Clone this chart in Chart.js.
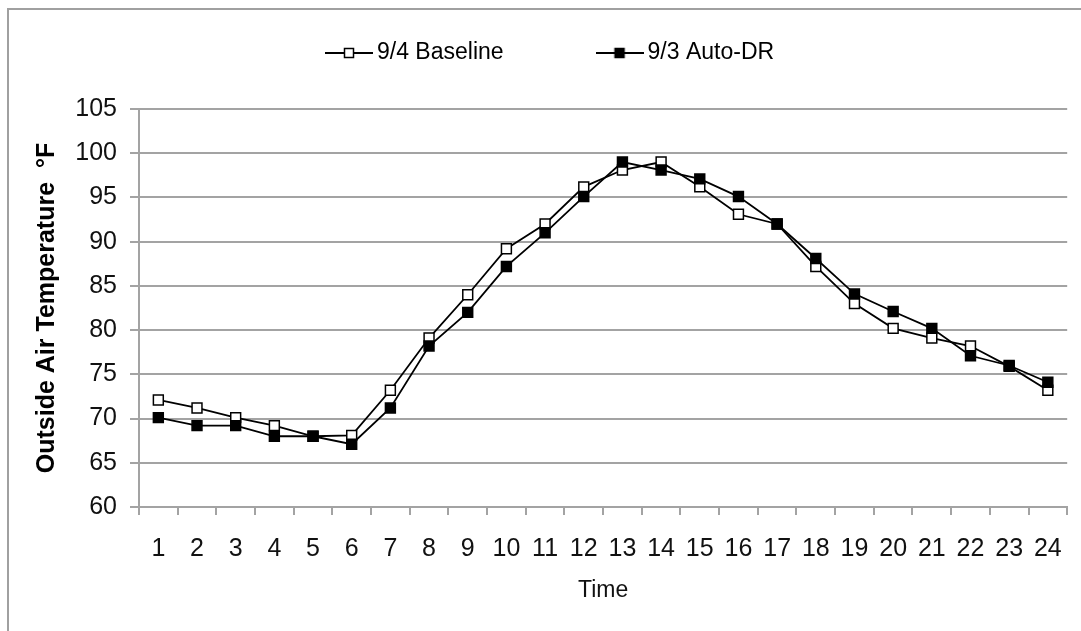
<!DOCTYPE html>
<html>
<head>
<meta charset="utf-8">
<script src="https://cdn.jsdelivr.net/npm/chart.js@4.4.1/dist/chart.umd.min.js"></script>
<style>
  html, body { margin: 0; padding: 0; background: #fff; overflow: hidden; }
  #wrap { position: relative; width: 1081px; height: 631px; }
  #frame { position: absolute; left: 7px; top: 8px; width: 2000px; height: 2000px;
           border-left: 2px solid #a0a0a0; border-top: 2px solid #a0a0a0; }
  #tempChart { position: absolute; left: 0; top: 0; }
</style>
</head>
<body>
<div id="wrap">
  <div id="frame"></div>
  <canvas id="tempChart"></canvas>
</div>
<script>
// 시간대 (1~24시)
const hours = ['1','2','3','4','5','6','7','8','9','10','11','12','13','14','15','16','17','18','19','20','21','22','23','24'];
const baselineLabel = '9/4 Baseline';
const autoDrLabel = '9/3 Auto-DR';
const baseline = [72.1, 71.2, 70.1, 69.2, 68.0, 68.1, 73.2, 79.1, 84.0, 89.2, 92.0, 96.2, 98.1, 99.0, 96.2, 93.1, 92.0, 87.2, 83.0, 80.2, 79.1, 78.2, 75.9, 73.2];
const autoDr = [70.1, 69.2, 69.2, 68.0, 68.0, 67.1, 71.2, 78.2, 82.0, 87.2, 91.0, 95.1, 99.0, 98.1, 97.1, 95.1, 92.0, 88.1, 84.1, 82.1, 80.2, 77.1, 76.0, 74.1];
const yMin = 60, yMax = 105, yStep = 5;

const FONT = "'Liberation Sans', Arial, sans-serif";
const GRID = '#a3a3a3';

// 범례용 선+마커 그림
function legendIcon(filled) {
    const c = document.createElement('canvas');
    c.width = 48; c.height = 14;
    const g = c.getContext('2d');
    g.strokeStyle = '#000';
    g.lineWidth = 1.8;
    g.beginPath(); g.moveTo(0, 7); g.lineTo(48, 7); g.stroke();
    g.fillStyle = filled ? '#000' : '#fff';
    g.fillRect(19.5, 2.5, 9, 9);
    g.lineWidth = 1.5;
    g.strokeRect(19.5, 2.5, 9, 9);
    return c;
}

// 범례와 그래프 사이 여백
const legendGap = {
    id: 'legendGap',
    beforeInit(chart) {
        const fit = chart.legend.fit;
        chart.legend.fit = function() {
            fit.call(chart.legend);
            this.height += 34.5;
        };
    }
};

const ctx = document.getElementById('tempChart').getContext('2d');
new Chart(ctx, {
    type: 'line',
    data: {
        labels: hours,
        datasets: [
            { label: baselineLabel, data: baseline, order: 2,
              borderColor: '#000', borderWidth: 1.8, pointStyle: 'rect', pointRadius: 7,
              pointBackgroundColor: '#fff', pointBorderColor: '#000', pointBorderWidth: 1.5 },
            { label: autoDrLabel, data: autoDr, order: 1,
              borderColor: '#000', borderWidth: 1.8, pointStyle: 'rect', pointRadius: 7,
              pointBackgroundColor: '#000', pointBorderColor: '#000', pointBorderWidth: 1.5 }
        ]
    },
    options: {
        responsive: true,
        maintainAspectRatio: false,
        animation: false,
        layout: { padding: { top: 31.5, left: 37.6, right: 12, bottom: 0 } },
        scales: {
            x: {
                offset: true,
                grid: { display: true, drawOnChartArea: false, offset: true, tickLength: 8, color: GRID, lineWidth: 2 },
                border: { display: true, color: GRID, width: 2 },
                ticks: { color: '#111', font: { family: FONT, size: 25 }, padding: 19, maxRotation: 0, autoSkip: false },
                title: { display: true, text: 'Time', color: '#111', font: { family: FONT, size: 23 }, padding: { top: 0, bottom: 27 } },
                afterFit(scale) { scale.height = 124; }
            },
            y: {
                min: yMin, max: yMax,
                grid: { color: GRID, lineWidth: 2, tickLength: 9 },
                border: { display: true, color: GRID, width: 2 },
                ticks: { stepSize: yStep, color: '#111', font: { family: FONT, size: 25 }, padding: 13 },
                title: { display: true, text: 'Outside Air Temperature  °F', color: '#000',
                         font: { family: FONT, size: 25, weight: 'bold' }, padding: { top: -5, bottom: 0 } },
                afterFit(scale) { scale.width = 101.4; }
            }
        },
        plugins: {
            legend: {
                position: 'top',
                labels: {
                    usePointStyle: true,
                    pointStyleWidth: 33,
                    padding: 10,
                    color: '#111',
                    font: { family: FONT, size: 23 },
                    generateLabels(chart) {
                        const icons = [legendIcon(false), legendIcon(true)];
                        return chart.data.datasets.map((ds, i) => ({
                            text: i === 0 ? ds.label + ' '.repeat(14) : ds.label,
                            pointStyle: icons[i],
                            fillStyle: '#000', strokeStyle: '#000', lineWidth: 0,
                            datasetIndex: i, hidden: false
                        }));
                    }
                }
            },
            tooltip: { enabled: false }
        }
    },
    plugins: [legendGap]
});
</script>
</body>
</html>
